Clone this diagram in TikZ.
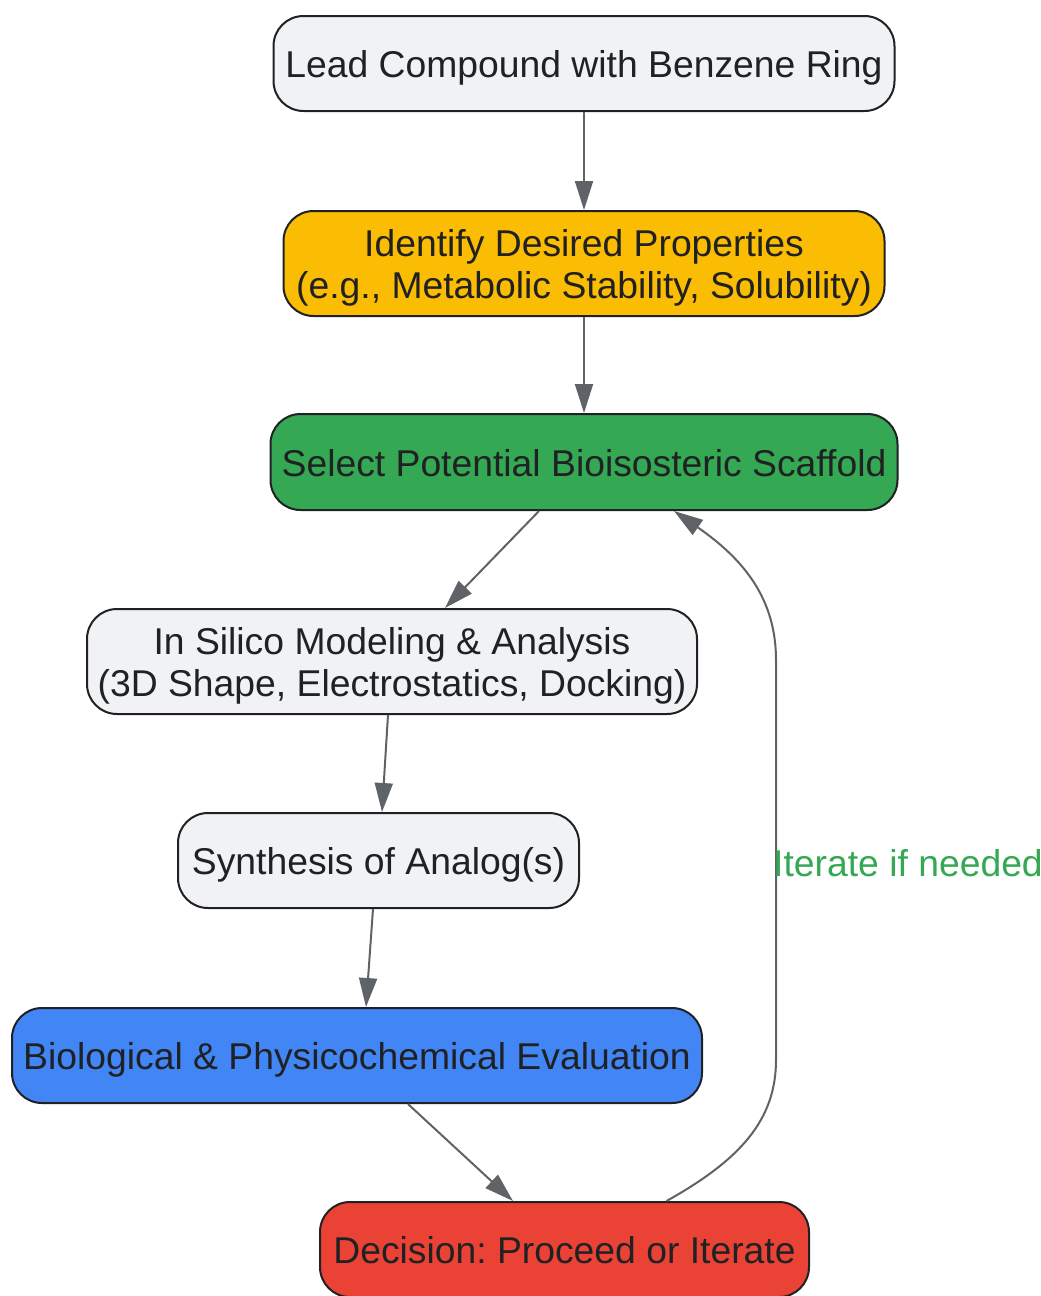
\documentclass[tikz,border=0pt]{standalone}
\usepackage{fontspec}
\setmainfont{Liberation Sans}
\usetikzlibrary{arrows.meta,calc}
\frenchspacing
\definecolor{nodegray}{HTML}{F1F2F4}
\definecolor{gyellow}{HTML}{FBBC04}
\definecolor{ggreen}{HTML}{34A853}
\definecolor{gblue}{HTML}{4285F4}
\definecolor{gred}{HTML}{EA4335}
\definecolor{edgegray}{HTML}{5F6368}
\definecolor{inkdark}{HTML}{202124}
\tikzset{
  box/.style={draw=inkdark, line width=2pt, rounded corners=30pt, inner sep=0pt,
    align=center, text=inkdark, font=\fontsize{37.3}{42}\selectfont, fill=nodegray,
    text height=28pt, text depth=0pt},
  twoline/.style={text height=69pt, text depth=0pt},
  flow/.style={draw=edgegray, line width=2pt, -{Triangle[length=29pt,width=18pt]}},
}
\begin{document}
\begin{tikzpicture}[x=1pt,y=-1pt]
\useasboundingbox (0,0) rectangle (1041,1296);
\node[box, minimum width=621pt, minimum height=95pt] (n1) at (584,63.5) {Lead Compound with Benzene Ring};
\node[box, twoline, fill=gyellow, minimum width=601pt, minimum height=105pt] (n2) at (584,263.5) {Identify Desired Properties\\(e.g., Metabolic Stability, Solubility)};
\node[box, fill=ggreen, minimum width=627pt, minimum height=96pt] (n3) at (584,462) {Select Potential Bioisosteric Scaffold};
\node[box, twoline, minimum width=610pt, minimum height=105pt] (n4) at (392,661.5) {In Silico Modeling \& Analysis\\(3D Shape, Electrostatics, Docking)};
\node[box, minimum width=401pt, minimum height=95pt] (n5) at (378.5,860.5) {Synthesis of Analog(s)};
\node[box, fill=gblue, minimum width=690pt, minimum height=95pt] (n6) at (357,1055.5) {Biological \& Physicochemical Evaluation};
\node[box, fill=gred, minimum width=489pt, minimum height=95pt] (n7) at (564.5,1249.5) {Decision: Proceed or Iterate};

\draw[flow] (n1.south) -- (n2.north);
\draw[flow] (n2.south) -- (n3.north);
\draw[flow] ([xshift=-45pt]n3.south) -- ([xshift=53pt]n4.north);
\draw[flow] ([xshift=-4pt]n4.south) -- ([xshift=3.5pt]n5.north);
\draw[flow] ([xshift=-5.5pt]n5.south) -- ([xshift=9pt]n6.north);
\draw[flow] ([xshift=51pt]n6.south) -- ([xshift=-51.5pt]n7.north);

\coordinate (lowbend) at (776,1060);
\coordinate (highbend) at (776,660);
\draw[flow] ([xshift=102pt]n7.north) .. controls (740,1160) and (776,1120) .. (lowbend)
  -- (highbend) .. controls (776,600) and (745,560) .. ([xshift=90pt]n3.south);
\node[text=ggreen, font=\fontsize{37.3}{42}\selectfont, anchor=west, inner sep=0pt] (lbl) at (773,863) {Iterate if needed};
\end{tikzpicture}
\end{document}
